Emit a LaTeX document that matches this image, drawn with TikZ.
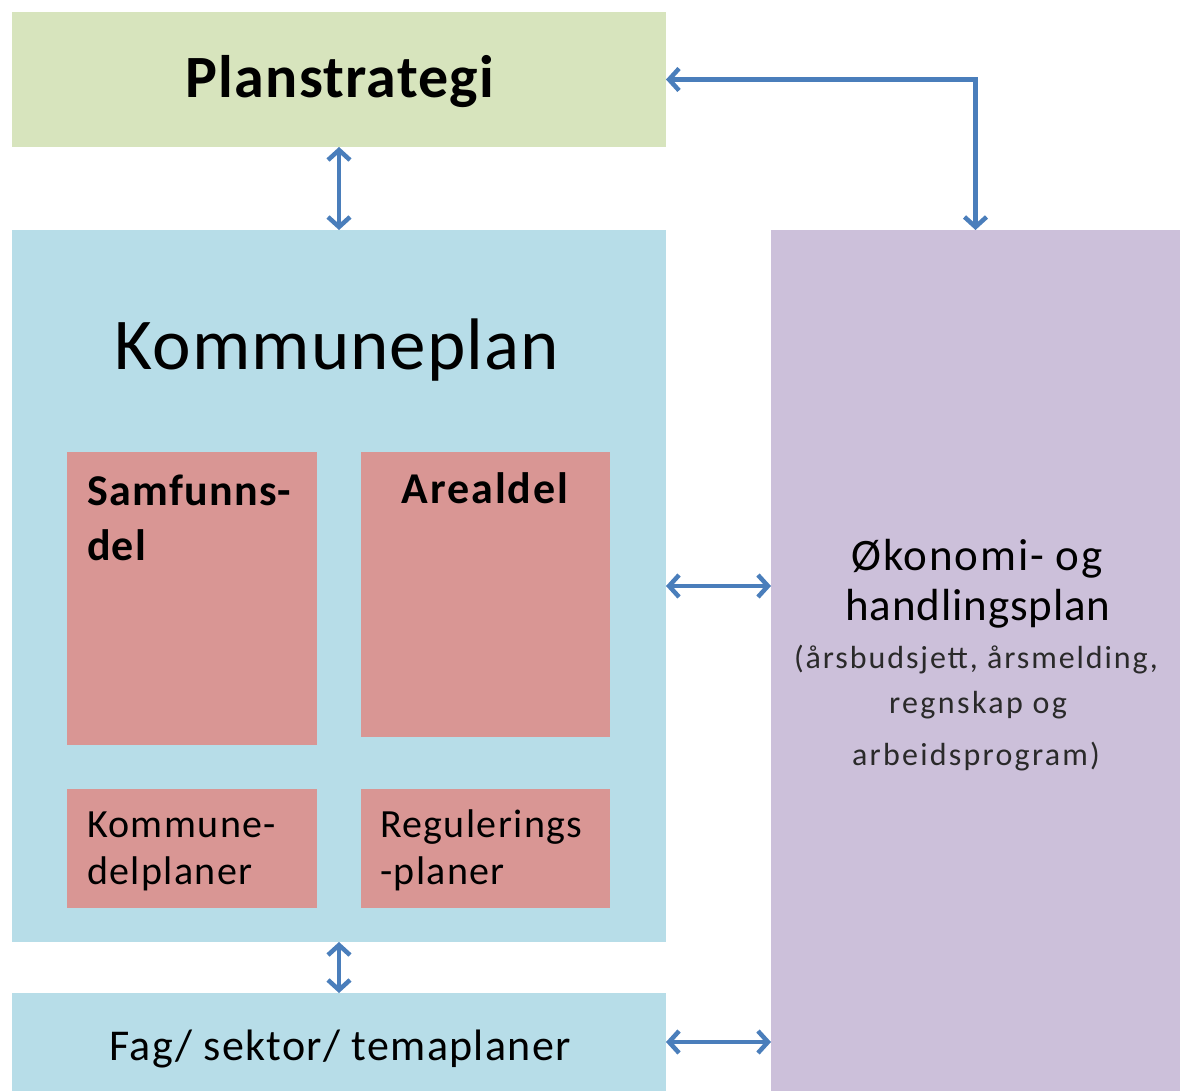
\documentclass[tikz,border=0pt]{standalone}
\usepackage{fontspec}
\setmainfont{Carlito}
\usetikzlibrary{arrows.meta}
\definecolor{cgreen}{HTML}{D7E4BD}
\definecolor{cblue}{HTML}{B7DDE8}
\definecolor{cred}{HTML}{D99694}
\definecolor{cpurple}{HTML}{CCC0DA}
\definecolor{carrow}{HTML}{4A7EBB}
\definecolor{csub}{HTML}{2A2A2A}
\begin{document}
\begin{tikzpicture}[x=1pt,y=-1pt,
  box/.style={draw=none, inner sep=0pt, outer sep=0pt, rectangle},
  txt/.style={inner sep=0pt, outer sep=0pt, text=black},
  conn/.style={draw=carrow, line width=4.5pt, {Straight Barb[length=10pt,width=22pt]}-{Straight Barb[length=10pt,width=22pt]}}]
\useasboundingbox (0,0) rectangle (1180,1091);
% boxes
\node[box, fill=cgreen, minimum width=654pt, minimum height=135pt] (plan) at (339,79.5) {};
\node[box, fill=cblue, minimum width=654pt, minimum height=712pt] (kp) at (339,586) {};
\node[box, fill=cblue, minimum width=654pt, minimum height=98pt] (fag) at (339,1042) {};
\node[box, fill=cpurple, minimum width=409pt, minimum height=861pt] (oko) at (975.5,660.5) {};
\node[box, fill=cred, minimum width=250pt, minimum height=293pt] (samf) at (192,598.5) {};
\node[box, fill=cred, minimum width=249pt, minimum height=285pt] (areal) at (485.5,594.5) {};
\node[box, fill=cred, minimum width=250pt, minimum height=119pt] (kdp) at (192,848.5) {};
\node[box, fill=cred, minimum width=249pt, minimum height=119pt] (reg) at (485.5,848.5) {};
% texts
\node[txt, anchor=base] (tplan) at (340,98) {\fontsize{60}{68}\selectfont\bfseries\addfontfeature{LetterSpace=2} Planstrategi};
\node[txt, anchor=base] (tkp) at (337,369) {\fontsize{73}{80}\selectfont\addfontfeature{LetterSpace=1.5} Kommuneplan};
\node[txt, anchor=base west] (tsamf1) at (87,505) {\fontsize{44}{52}\selectfont\bfseries\addfontfeature{LetterSpace=3} Samfunns-};
\node[txt, anchor=base west] (tsamf2) at (87,560) {\fontsize{44}{52}\selectfont\bfseries\addfontfeature{LetterSpace=3} del};
\node[txt, anchor=base] (tareal) at (485,503) {\fontsize{44}{52}\selectfont\bfseries\addfontfeature{LetterSpace=4.5} Arealdel};
\node[txt, anchor=base west] (tkdp1) at (87,837) {\fontsize{40}{48}\selectfont\addfontfeature{LetterSpace=3.5} Kommune-};
\node[txt, anchor=base west] (tkdp2) at (87,884) {\fontsize{40}{48}\selectfont\addfontfeature{LetterSpace=3.5} delplaner};
\node[txt, anchor=base west] (treg1) at (380,837) {\fontsize{40}{48}\selectfont\addfontfeature{LetterSpace=3.5} Regulerings};
\node[txt, anchor=base west] (treg2) at (380,884) {\fontsize{40}{48}\selectfont\addfontfeature{LetterSpace=3.5} -planer};
\node[txt, anchor=base] (tfag) at (340,1060) {\fontsize{44}{52}\selectfont\addfontfeature{LetterSpace=3} Fag/ sektor/ temaplaner};
\node[txt, anchor=base] (toko1) at (977,570) {\fontsize{45}{52}\selectfont\addfontfeature{LetterSpace=4} Økonomi- og};
\node[txt, anchor=base] (toko2) at (978,620) {\fontsize{45}{52}\selectfont\addfontfeature{LetterSpace=2} handlingsplan};
\node[txt, anchor=base, text=csub] (toko3) at (976,668) {\fontsize{32}{40}\selectfont\addfontfeature{LetterSpace=6} (årsbudsjett, årsmelding,};
\node[txt, anchor=base, text=csub] (toko4) at (978,713) {\fontsize{32}{40}\selectfont\addfontfeature{LetterSpace=7.5} regnskap og};
\node[txt, anchor=base, text=csub] (toko5) at (976,765) {\fontsize{32}{40}\selectfont\addfontfeature{LetterSpace=7} arbeidsprogram)};
% connectors
\draw[conn] (plan.south) -- (kp.north);
\draw[conn] (kp.south) -- (fag.north);
\draw[conn] (kp.east) -- (kp.east -| oko.west);
\draw[conn] (fag.east) -- (fag.east -| oko.west);
\draw[conn] (plan.east) -| (oko.north);
\end{tikzpicture}
\end{document}
